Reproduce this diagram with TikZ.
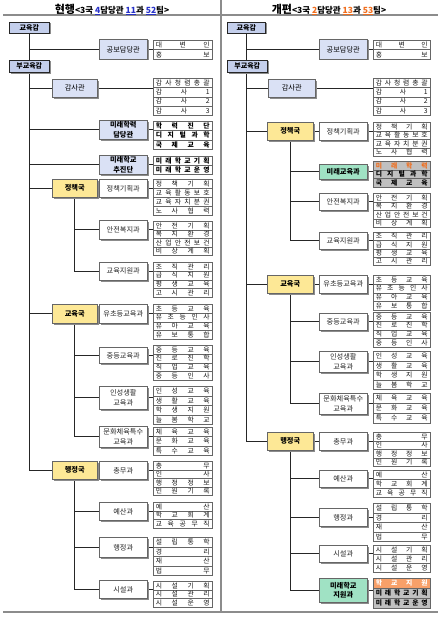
\documentclass[tikz,border=0pt]{standalone}
\usepackage{fontspec}
\setmainfont{Noto Sans CJK KR}
\usetikzlibrary{shadows,backgrounds}
\definecolor{bluebox}{RGB}{196,207,236}
\definecolor{bluelt}{RGB}{218,225,245}
\definecolor{yel}{RGB}{253,232,150}
\definecolor{grn}{RGB}{160,226,196}
\definecolor{gteam}{RGB}{192,192,192}
\definecolor{org}{RGB}{240,110,30}
\definecolor{orgfill}{RGB}{248,160,105}
\definecolor{tblue}{RGB}{40,50,200}
\definecolor{framec}{RGB}{140,140,140}
\tikzset{
 shd/.style={drop shadow={shadow xshift=1.2pt, shadow yshift=-1.2pt, fill=black!45, opacity=1}},
 base/.style={draw=black!60, line width=0.6pt, inner sep=0pt, shd, text=black},
 topbox/.style={base, fill=bluebox, draw=black!85, font=\fontsize{7}{8}\selectfont\bfseries},
 dam/.style={base, fill=bluelt, font=\fontsize{7.2}{9}\selectfont},
 damb/.style={base, fill=bluelt, font=\fontsize{7.2}{9.5}\selectfont\bfseries, align=center},
 guk/.style={base, fill=yel, font=\fontsize{7.2}{9}\selectfont\bfseries},
 gwa/.style={base, fill=white, font=\fontsize{7.2}{9.5}\selectfont, align=center, text=black!85},
 gwag/.style={base, fill=grn, font=\fontsize{7.2}{9.5}\selectfont\bfseries, align=center},
 team/.style={base, fill=white, line width=0.5pt, font=\fontsize{6.8}{7}\selectfont, text=black!90},
 teamb/.style={team, font=\fontsize{6.8}{7}\selectfont\bfseries, text=black},
 teamg/.style={teamb, fill=gteam},
 teamo/.style={teamb, fill=orgfill, text=white},
 conn/.style={draw=black!85, line width=0.9pt},
 bar/.style={draw=framec, line width=2pt},
 ttl/.style={font=\fontsize{8.5}{10}\selectfont\bfseries},
}
\newcommand\BX[7]{\node[#1, minimum width=#5pt-#3pt, minimum height=#6pt-#4pt, anchor=north west] (#2) at (#3,#4) {#7};}
\newcommand\TG[8]{%
 \pgfmathsetmacro\rh{(#6-#5)/#7}%
 \pgfmathsetlengthmacro\tw{#4-#3-5}%
 \foreach \t [count=\i] in {#8}{%
   \node[#1, minimum width=#4pt-#3pt, minimum height=\rh pt, anchor=north west] (#2\i) at (#3,{#5+(\i-1)*\rh}) {\makebox[\tw][s]{\t}};
 }}
\begin{document}
\begin{tikzpicture}[x=1pt,y=-1pt]
\path[use as bounding box] (0,0) rectangle (440,618);
% frame
\draw[bar] (3,15.5) -- (220,15.5);
\draw[bar] (222,15.5) -- (438,15.5);
\draw[bar] (3,612) -- (220,612);
\draw[bar] (222,612) -- (438,612);
\draw[draw=framec, line width=1.8pt] (221,0) -- (221,613);
% titles
\node[ttl] (Ltitle) at (112,9.5) {{\fontsize{11}{12}\selectfont 현행}<3국 \textcolor{tblue}{\underline{4}}담당관 \textcolor{tblue}{\underline{11}}과 \textcolor{tblue}{\underline{52}}팀>};
\node[ttl] (Rtitle) at (329,9.5) {{\fontsize{11}{12}\selectfont 개편}<3국 \textcolor{org}{\underline{2}}담당관 \textcolor{org}{\underline{13}}과 \textcolor{org}{\underline{53}}팀>};

% ===== LEFT =====
\BX{topbox}{L0}{9}{22}{49}{33}{교육감}
\BX{topbox}{L1}{9}{60}{49}{72}{부교육감}
\BX{dam}{Lgb}{99}{39}{147}{59}{공보담당관}
\TG{team}{Lgbt}{153}{212}{40}{59}{2}{대 변 인, 홍 보}
\BX{dam}{Lgs}{52}{79}{97}{97}{감사관}
\TG{team}{Lgst}{153}{212}{78}{115}{4}{감 사 청 렴 총 괄, 감 사 1, 감 사 2, 감 사 3}
\BX{damb}{Lmh}{99}{120}{147}{139}{미래학력\\담당관}
\TG{teamb}{Lmht}{153}{212}{121}{149}{3}{학 력 진 단, 디 지 털 과 학, 국 제 교 육}
\BX{damb}{Lmc}{99}{155}{147}{174}{미래학교\\추진단}
\TG{teamb}{Lmct}{153}{212}{156}{174}{2}{미 래 학 교 기 획, 미 래 학 교 운 영}
\BX{guk}{Ljc}{52}{179}{97}{197}{정책국}
\BX{gwa}{Ljc1}{99}{179}{147}{197}{정책기획과}
\TG{team}{Ljc1t}{153}{212}{179}{215}{4}{정 책 기 획, 교 육 활 동 보 호, 교 육 자 치 분 권, 노 사 협 력}
\BX{gwa}{Ljc2}{99}{220}{147}{239}{안전복지과}
\TG{team}{Ljc2t}{153}{212}{221}{255}{4}{안 전 기 획, 복 지 환 경, 산 업 안 전 보 건, 비 상 계 획}
\BX{gwa}{Ljc3}{99}{262}{147}{280}{교육지원과}
\TG{team}{Ljc3t}{153}{212}{262}{297}{4}{조 직 관 리, 급 식 지 원, 평 생 교 육, 고 시 관 리}
\BX{guk}{Lgy}{52}{304}{97}{323}{교육국}
\BX{gwa}{Lgy1}{99}{304}{147}{323}{유초등교육과}
\TG{team}{Lgy1t}{153}{212}{304}{339}{4}{초 등 교 육, 유 초 등 인 사, 유 아 교 육, 유 보 통 합}
\BX{gwa}{Lgy2}{99}{347}{147}{363}{중등교육과}
\TG{team}{Lgy2t}{153}{212}{345}{380}{4}{중 등 교 육, 진 로 진 학, 직 업 교 육, 중 등 인 사}
\BX{gwa}{Lgy3}{99}{386}{147}{409}{인성생활\\교육과}
\TG{team}{Lgy3t}{153}{212}{386}{424}{4}{인 성 교 육, 생 활 교 육, 학 생 지 원, 늘 봄 학 교}
\BX{gwa}{Lgy4}{99}{426}{147}{447}{문화체육특수\\교육과}
\TG{team}{Lgy4t}{153}{212}{427}{455}{3}{체 육 교 육, 문 화 교 육, 특 수 교 육}
\BX{guk}{Lhj}{52}{461}{97}{479}{행정국}
\BX{gwa}{Lhj1}{99}{461}{147}{479}{총무과}
\TG{team}{Lhj1t}{153}{212}{461}{495}{4}{총 무, 인 사, 행 정 정 보, 민 원 기 록}
\BX{gwa}{Lhj2}{99}{502}{147}{520}{예산과}
\TG{team}{Lhj2t}{153}{212}{502}{528}{3}{예 산, 학 교 회 계, 교 육 공 무 직}
\BX{gwa}{Lhj3}{99}{537}{147}{557}{행정과}
\TG{team}{Lhj3t}{153}{212}{537}{575}{4}{설 립 통 학, 경 리, 재 산, 법 무}
\BX{gwa}{Lhj4}{99}{580}{147}{598}{시설과}
\TG{team}{Lhj4t}{153}{212}{581}{607}{3}{시 설 기 획, 시 설 관 리, 시 설 운 영}

% ===== RIGHT =====
\BX{topbox}{R0}{227}{22}{265}{33}{교육감}
\BX{topbox}{R1}{227}{60}{267}{72}{부교육감}
\BX{dam}{Rgb}{319}{39}{367}{59}{공보담당관}
\TG{team}{Rgbt}{373}{430}{40}{59}{2}{대 변 인, 홍 보}
\BX{dam}{Rgs}{268}{79}{315}{97}{감사관}
\TG{team}{Rgst}{373}{430}{78}{115}{4}{감 사 청 렴 총 괄, 감 사 1, 감 사 2, 감 사 3}
\BX{guk}{Rjc}{267}{122}{313}{140}{정책국}
\BX{gwa}{Rjc1}{319}{122}{367}{140}{정책기획과}
\TG{team}{Rjc1t}{373}{430}{122}{156}{4}{정 책 기 획, 교 육 활 동 보 호, 교 육 자 치 분 권, 노 사 협 력}
\BX{gwag}{Rjc2}{319}{164}{367}{179}{미래교육과}
\TG{teamg}{Rjc2t}{373}{430}{161}{187}{3}{{\color{org}미 래 학 력}, 디 지 털 과 학, 국 제 교 육}
\BX{gwa}{Rjc3}{319}{193}{367}{210}{안전복지과}
\TG{team}{Rjc3t}{373}{430}{193}{227}{4}{안 전 기 획, 복 지 환 경, 산 업 안 전 보 건, 비 상 계 획}
\BX{gwa}{Rjc4}{319}{232}{367}{249}{교육지원과}
\TG{team}{Rjc4t}{373}{430}{232}{265}{4}{조 직 관 리, 급 식 지 원, 평 생 교 육, 고 시 관 리}
\BX{guk}{Rgy}{267}{275}{313}{293}{교육국}
\BX{gwa}{Rgy1}{319}{275}{367}{293}{유초등교육과}
\TG{team}{Rgy1t}{373}{430}{275}{310}{4}{초 등 교 육, 유 초 등 인 사, 유 아 교 육, 유 보 통 합}
\BX{gwa}{Rgy2}{319}{313}{367}{330}{중등교육과}
\TG{team}{Rgy2t}{373}{430}{312}{347}{4}{중 등 교 육, 진 로 진 학, 직 업 교 육, 중 등 인 사}
\BX{gwa}{Rgy3}{319}{351}{367}{372}{인성생활\\교육과}
\TG{team}{Rgy3t}{373}{430}{351}{389}{4}{인 성 교 육, 생 활 교 육, 학 생 지 원, 늘 봄 학 교}
\BX{gwa}{Rgy4}{319}{393}{367}{414}{문화체육특수\\교육과}
\TG{team}{Rgy4t}{373}{430}{393}{423}{3}{체 육 교 육, 문 화 교 육, 특 수 교 육}
\BX{guk}{Rhj}{267}{432}{313}{450}{행정국}
\BX{gwa}{Rhj1}{319}{432}{367}{450}{총무과}
\TG{team}{Rhj1t}{373}{430}{432}{466}{4}{총 무, 인 사, 행 정 정 보, 민 원 기 록}
\BX{gwa}{Rhj2}{319}{470}{367}{487}{예산과}
\TG{team}{Rhj2t}{373}{430}{470}{497}{3}{예 산, 학 교 회 계, 교 육 공 무 직}
\BX{gwa}{Rhj3}{319}{508}{367}{526}{행정과}
\TG{team}{Rhj3t}{373}{430}{503}{541}{4}{설 립 통 학, 경 리, 재 산, 법 무}
\BX{gwa}{Rhj4}{319}{545}{367}{562}{시설과}
\TG{team}{Rhj4t}{373}{430}{545}{572}{3}{시 설 기 획, 시 설 관 리, 시 설 운 영}
\BX{gwag}{Rhj5}{319}{578}{367}{602}{미래학교\\지원과}
\TG{teamo}{Rhj5t}{373}{430}{578}{588}{1}{학 교 지 원}
\TG{teamg}{Rhj5u}{373}{430}{588}{608}{2}{미 래 학 교 기 획, 미 래 학 교 운 영}

% ===== CONNECTORS =====
\begin{pgfonlayer}{background}
 \draw[conn] (L0.south) -- (L0.south |- Lhj.west) -- (Lhj.west);
 \foreach \n in {Lgb,Lgs,Lmh,Lmc,Ljc,Lgy}{\draw[conn] (L0.south |- \n.west) -- (\n.west);}
 \draw[conn] (R0.south) -- (R0.south |- Rhj.west) -- (Rhj.west);
 \foreach \n in {Rgb,Rgs,Rjc,Rgy}{\draw[conn] (R0.south |- \n.west) -- (\n.west);}
 \foreach \n in {Lgb,Lgs,Lmh,Lmc,Ljc1,Ljc2,Ljc3,Lgy1,Lgy2,Lgy3,Lgy4,Lhj1,Lhj2,Lhj3,Lhj4,
                 Rgb,Rgs,Rjc1,Rjc2,Rjc3,Rjc4,Rgy1,Rgy2,Rgy3,Rgy4,Rhj1,Rhj2,Rhj3,Rhj4}
   {\draw[conn] (\n.east) -- (\n.east -| \n t1.west);}
 \draw[conn] (Rhj5.east) -- (Rhj5.east -| Rhj5u1.west);
 \foreach \g/\a/\z in {Ljc/Ljc1/Ljc3,Lgy/Lgy1/Lgy4,Lhj/Lhj1/Lhj4,Rjc/Rjc1/Rjc4,Rgy/Rgy1/Rgy4,Rhj/Rhj1/Rhj5}
   {\draw[conn] (\g.east) -- (\a.west);
    \draw[conn] (\g.south) -- (\g.south |- \z.west) -- (\z.west);}
 \draw[conn] (Ljc.south |- Ljc2.west) -- (Ljc2.west);
 \draw[conn] (Lgy.south |- Lgy2.west) -- (Lgy2.west);
 \draw[conn] (Lgy.south |- Lgy3.west) -- (Lgy3.west);
 \draw[conn] (Lhj.south |- Lhj2.west) -- (Lhj2.west);
 \draw[conn] (Lhj.south |- Lhj3.west) -- (Lhj3.west);
 \foreach \n in {Rjc2,Rjc3}{\draw[conn] (Rjc.south |- \n.west) -- (\n.west);}
 \foreach \n in {Rgy2,Rgy3}{\draw[conn] (Rgy.south |- \n.west) -- (\n.west);}
 \foreach \n in {Rhj2,Rhj3,Rhj4}{\draw[conn] (Rhj.south |- \n.west) -- (\n.west);}
\end{pgfonlayer}
\end{tikzpicture}
\end{document}
